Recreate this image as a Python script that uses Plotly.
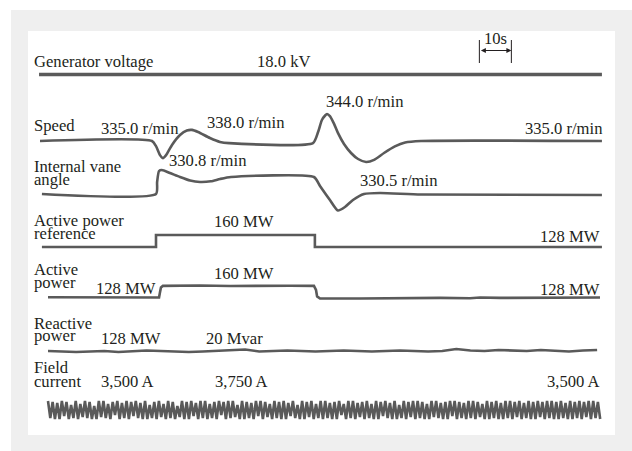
import plotly.graph_objects as go

# ---------------- data (time in s) ----------------
voltage_t = [-0.3, 175.6]
voltage_kv = [18.0, 18.0]

speed_t = [0.0, 35.0, 36.25, 37.5, 38.4, 39.4, 41.25, 43.75, 45.9, 47.5, 49.4, 53.1, 56.25, 59.1,
           85.3, 86.9, 88.1, 89.1, 89.7, 90.6, 91.9, 93.1, 95.0, 97.2, 99.4, 101.9, 104.4, 107.5,
           110.9, 114.1, 119.1, 175.6]
speed_rpm = [335.0, 335.0, 333.3, 330.3, 329.3, 330.3, 333.7, 337.0, 338.5, 338.7, 338.0, 336.0, 334.7, 334.3,
             334.3, 338.0, 342.0, 343.5, 344.0, 343.3, 340.7, 337.7, 334.0, 331.0, 329.0, 328.0, 328.7, 331.0,
             333.2, 334.5, 335.0, 335.0]

vane_t = [0.6, 36.25, 36.6, 37.2, 38.1, 40.6, 43.75, 46.9, 50.0, 53.4, 56.25, 59.7, 85.6, 87.5, 90.6,
          93.1, 95.3, 97.8, 101.25, 106.25, 119.1, 175.6]
vane_deg = [20.0, 20.0, 26.0, 31.5, 32.0, 30.5, 28.5, 26.75, 26.0, 26.35, 27.5, 28.5, 28.5, 24.0, 17.0,
            11.75, 13.5, 17.0, 20.0, 20.5, 19.75, 19.5]

ref_t = [0.6, 36.25, 85.9, 175.6]
ref_mw = [128, 160, 128, 128]

active_t = [2.5, 18.75, 36.25, 37.2, 37.5, 37.8, 38.4, 42.2, 50.0, 59.4, 68.75, 78.1, 85.6, 86.25,
            86.6, 87.5, 100.0, 112.5, 125.0, 134.4, 137.5, 143.75, 156.25, 175.0]
active_mw = [128.5, 128.0, 127.5, 128.0, 142.0, 155.0, 159.0, 159.5, 160.0, 158.5, 160.0, 159.5, 159.0, 148.0,
             131.0, 125.5, 125.5, 126.5, 127.0, 126.0, 128.0, 127.0, 127.0, 128.0]

reactive_t0, reactive_dt = 2.5, 4.4
reactive_mvar = [20.0, 19.5, 19.0, 19.5, 20.0, 19.0, 19.5, 20.5, 20.0, 19.5, 19.0, 19.5, 20.0, 20.5,
                 21.5, 19.5, 20.0, 20.5, 20.0, 19.5, 20.0, 20.5, 20.0, 19.5, 20.0, 20.5, 20.0, 19.5,
                 20.0, 22.0, 20.5, 20.0, 21.0, 20.5, 20.0, 21.0, 20.0, 19.5, 20.5, 21.0]

field_t0, field_dt = 2.5, 0.722
field_ripple = [  # deviation from 3,600 A, in tens of A
    9, -8, 8, -9, 7, -9, 9, -6, 8, -9, 5, -8, 9, -9, 6, -7, 9, -8, 8, -9,
    4, -9, 9, -7, 9, -8, 6, -9, 8, -5, 9, -9, 7, -8, 9, -9, 8, -6, 9, -8,
    7, -9, 9, -9, 5, -8, 8, -9, 9, -7, 6, -9, 9, -8, 8, -9, 4, -7, 9, -9,
    8, -9, 9, -6, 7, -9, 9, -8, 9, -9, 6, -8, 8, -9, 9, -5, 8, -9, 9, -8,
    9, -7, 5, -9, 9, -9, 8, -8, 7, -9, 9, -6, 9, -9, 8, -7, 6, -9, 9, -8,
    8, -9, 9, -9, 7, -6, 9, -8, 5, -9, 9, -9, 8, -7, 9, -9, 6, -8, 9, -9,
    9, -8, 7, -9, 8, -9, 9, -5, 6, -9, 9, -8, 9, -9, 7, -7, 8, -9, 9, -8,
    6, -9, 9, -9, 8, -6, 9, -8, 7, -9, 9, -9, 5, -8, 9, -9, 8, -7, 9, -9,
    9, -8, 8, -9, 6, -9, 9, -7, 9, -8, 7, -9, 8, -9, 9, -6, 9, -9, 8, -8,
    7, -9, 9, -8, 9, -9, 8, -7, 6, -9, 9, -9, 8, -8, 9, -9, 7, -9, 9, -8,
    9, -9, 8, -7, 9, -9, 7, -8, 9, -9, 8, -9, 9, -7, 8, -9, 9, -8, 9, -9,
    8, -9, 9, -8, 7, -9, 9, -9, 8, -8, 9, -9, 8, -7, 9, -9, 9, -8, 8, -9]
field_current_a = [3600 + 10 * d for d in field_ripple]

scale_bar_t = [137.3, 147.3]

# ---------------- layout helpers ----------------
W, H = 632, 451
X0_PX, PX_PER_S = 40.0, 3.2
LINE = "#5a5a5a"
TXT = "#231f20"
FONT = "Liberation Serif"
FS = 16.6


def xp(px):
    return px / W


def yp(px):
    return 1 - px / H


def yrange(ref_val, ref_px, px_per_unit):
    return [ref_val - (H - ref_px) / px_per_unit, ref_val + ref_px / px_per_unit]


fig = go.Figure()

traces = [
    (voltage_t, voltage_kv, "y7", 3.5, "linear"),
    (speed_t, speed_rpm, "y", 2.6, "spline"),
    (vane_t, vane_deg, "y2", 2.6, "spline"),
    (ref_t, ref_mw, "y3", 2.6, "hv"),
    (active_t, active_mw, "y4", 2.6, "linear"),
]
for xs, ys, ax, w, shp in traces:
    kw = dict(smoothing=0.6) if shp == "spline" else {}
    fig.add_trace(go.Scatter(x=xs, y=ys, yaxis=ax, mode="lines",
                             line=dict(color=LINE, width=w, shape=shp, **kw),
                             hoverinfo="skip", showlegend=False))

fig.add_trace(go.Scatter(x0=reactive_t0, dx=reactive_dt, y=reactive_mvar, yaxis="y5", mode="lines",
                         line=dict(color=LINE, width=2.6), showlegend=False, hoverinfo="skip"))
fig.add_trace(go.Scatter(x0=field_t0, dx=field_dt, y=field_current_a, yaxis="y6", mode="lines",
                         line=dict(color=LINE, width=2.6), showlegend=False, hoverinfo="skip"))

hidden = dict(visible=False, fixedrange=True, autorange=False, domain=[0, 1])
fig.update_layout(
    width=W, height=H,
    margin=dict(l=0, r=0, t=0, b=0, pad=0),
    paper_bgcolor="white", plot_bgcolor="rgba(0,0,0,0)",
    xaxis=dict(visible=False, range=[-X0_PX / PX_PER_S, (W - X0_PX) / PX_PER_S], autorange=False,
               domain=[0, 1], fixedrange=True),
    yaxis=dict(range=yrange(335.0, 141, 3.0), **hidden),
    yaxis2=dict(range=yrange(20.0, 194, 2.0), overlaying="y", **hidden),
    yaxis3=dict(range=yrange(128, 247, 0.375), overlaying="y", **hidden),
    yaxis4=dict(range=yrange(128, 297.5, 0.375), overlaying="y", **hidden),
    yaxis5=dict(range=yrange(20.0, 351, 1.0), overlaying="y", **hidden),
    yaxis6=dict(range=yrange(3600, 410, 0.1), overlaying="y", **hidden),
    yaxis7=dict(range=yrange(18.0, 74.5, 10.0), overlaying="y", **hidden),
    showlegend=False,
)

# backgrounds
fig.add_shape(type="rect", xref="paper", yref="paper", x0=xp(11), x1=1, y0=0, y1=yp(10),
              fillcolor="#efefef", line_width=0, layer="below")
fig.add_shape(type="rect", xref="paper", yref="paper", x0=xp(28), x1=xp(615), y0=yp(435), y1=yp(31),
              fillcolor="white", line_width=0, layer="below")

# 10 s scale bar
for t in scale_bar_t:
    fig.add_shape(type="line", xref="x", yref="paper", x0=t, x1=t, y0=yp(63), y1=yp(40),
                  line=dict(color=TXT, width=1))
fig.add_annotation(x=scale_bar_t[1], y=yp(50.5), xref="x", yref="paper", text="",
                   ax=scale_bar_t[0], ay=0, axref="x", ayref="pixel", showarrow=True,
                   arrowside="end+start", arrowhead=2, arrowsize=1, arrowwidth=1,
                   arrowcolor=TXT, standoff=0, startstandoff=0)

labels = [
    ("10s", 495, 39, "center"),
    ("Generator voltage", 33, 61, "left"),
    ("18.0 kV", 256, 62, "left"),
    ("344.0 r/min", 325, 101.5, "left"),
    ("Speed", 33, 126, "left"),
    ("335.0 r/min", 100, 128.5, "left"),
    ("338.0 r/min", 206, 123, "left"),
    ("335.0 r/min", 604, 128, "right"),
    ("Internal vane", 33, 166, "left"),
    ("angle", 33, 179, "left"),
    ("330.8 r/min", 168, 161, "left"),
    ("330.5 r/min", 359, 180, "left"),
    ("Active power", 33, 220, "left"),
    ("reference", 33, 233, "left"),
    ("160 MW", 213, 222, "left"),
    ("128 MW", 601, 236, "right"),
    ("Active", 33, 269, "left"),
    ("power", 33, 282, "left"),
    ("128 MW", 157, 288, "right"),
    ("160 MW", 213, 273, "left"),
    ("128 MW", 601, 289, "right"),
    ("Reactive", 33, 323, "left"),
    ("power", 33, 335, "left"),
    ("128 MW", 100, 338, "left"),
    ("20 Mvar", 205, 338, "left"),
    ("Field", 33, 367, "left"),
    ("current", 33, 381, "left"),
    ("3,500 A", 100, 381, "left"),
    ("3,750 A", 214, 381, "left"),
    ("3,500 A", 601, 381, "right"),
]
for text, x, y, anc in labels:
    fig.add_annotation(x=xp(x), y=yp(y), xref="paper", yref="paper", text=text, showarrow=False,
                       xanchor=anc, yanchor="middle", borderpad=0,
                       font=dict(family=FONT, size=FS, color=TXT))

fig.write_html("out.html", config={"displayModeBar": False},
               post_script="document.body.style.margin='0';")
